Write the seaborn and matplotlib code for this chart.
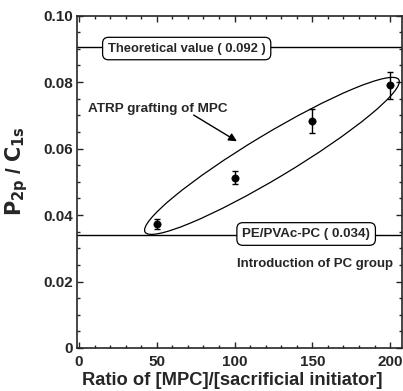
import numpy as np
import pandas as pd
import matplotlib
matplotlib.use("Agg")
import matplotlib.pyplot as plt
import matplotlib.transforms as mtransforms
from matplotlib.patches import Ellipse
from matplotlib.ticker import MultipleLocator, FuncFormatter
import seaborn as sns

# data
ratio = [50, 100, 150, 200]
p_c = [0.0372, 0.0512, 0.0683, 0.0790]
err = [0.0015, 0.0020, 0.0036, 0.0040]
theoretical = 0.0905
pe_pvac_pc = 0.034

df = pd.DataFrame({"ratio": ratio, "pc": p_c, "err": err})

sns.set_style("ticks")
plt.rcParams['font.family'] = ['Liberation Sans', 'DejaVu Sans']
plt.rcParams['font.weight'] = 'bold'

fig = plt.figure(figsize=(4.03, 3.91), dpi=100)
ax = fig.add_axes([0.1923, 0.110, 0.8040, 0.850])

ax.axhline(theoretical, color='black', lw=1.0, zorder=1)
ax.axhline(pe_pvac_pc, color='black', lw=1.0, zorder=1)

ax.errorbar(df["ratio"], df["pc"], yerr=df["err"], fmt='none', ecolor='black',
            elinewidth=1.0, capsize=2.5, capthick=1.0, zorder=3)
sns.scatterplot(data=df, x="ratio", y="pc", ax=ax, color='black', s=28,
                edgecolor='black', zorder=4, legend=False)

# ellipse around the data, sized in inches, centred in data coords
trans = fig.dpi_scale_trans + mtransforms.ScaledTranslation(124, 0.0578, ax.transData)
ax.add_patch(Ellipse((0, 0), width=2.96, height=0.44, angle=31, transform=trans,
                     fill=False, edgecolor='black', lw=0.9, zorder=2))

box = dict(boxstyle='round,pad=0.4,rounding_size=0.45', fc='white', ec='black', lw=0.9)
ax.text(69.2, 0.0901, 'Theoretical value ( 0.092 )', ha='center', va='center',
        fontsize=9.4, bbox=box, zorder=5)
ax.text(146, 0.0343, 'PE/PVAc-PC ( 0.034)', ha='center', va='center',
        fontsize=9.6, bbox=box, zorder=5)
ax.text(151.5, 0.0253, 'Introduction of PC group', ha='center', va='center', fontsize=9.5)
ax.annotate('ATRP grafting of MPC', xy=(101.5, 0.0622), xytext=(5.5, 0.0719),
            ha='left', va='center', fontsize=9.7,
            arrowprops=dict(arrowstyle='-|>', color='black', lw=1.0,
                            mutation_scale=12, shrinkA=0, shrinkB=0,
                            patchA=None, relpos=(0.76, 0.0)))

ax.set_xlim(-1, 207.3)
ax.set_ylim(0, 0.10)
ax.xaxis.set_major_locator(MultipleLocator(50))
ax.xaxis.set_minor_locator(MultipleLocator(10))
ax.yaxis.set_major_locator(MultipleLocator(0.02))
ax.yaxis.set_minor_locator(MultipleLocator(0.005))
ax.yaxis.set_major_formatter(FuncFormatter(lambda v, p: '0' if abs(v) < 1e-9 else f'{v:.2f}'))
ax.tick_params(which='both', direction='in', top=True, right=True, labelsize=11, width=1.0)
ax.tick_params(axis='x', pad=5)
ax.tick_params(which='major', length=4)
ax.tick_params(which='minor', length=2)
for s in ax.spines.values():
    s.set_linewidth(1.2)

ax.set_xlabel('Ratio of [MPC]/[sacrificial initiator]', fontsize=13.2, fontweight='bold')
ax.xaxis.set_label_coords(0.477, -0.072, transform=ax.transAxes)
ax.set_ylabel(r'$\mathbf{P_{2p}}$ / $\mathbf{C_{1s}}$', fontsize=15, fontweight='bold')
ax.yaxis.set_label_coords(-0.148, 0.533, transform=ax.transAxes)

fig.savefig('out.png', dpi=100)
